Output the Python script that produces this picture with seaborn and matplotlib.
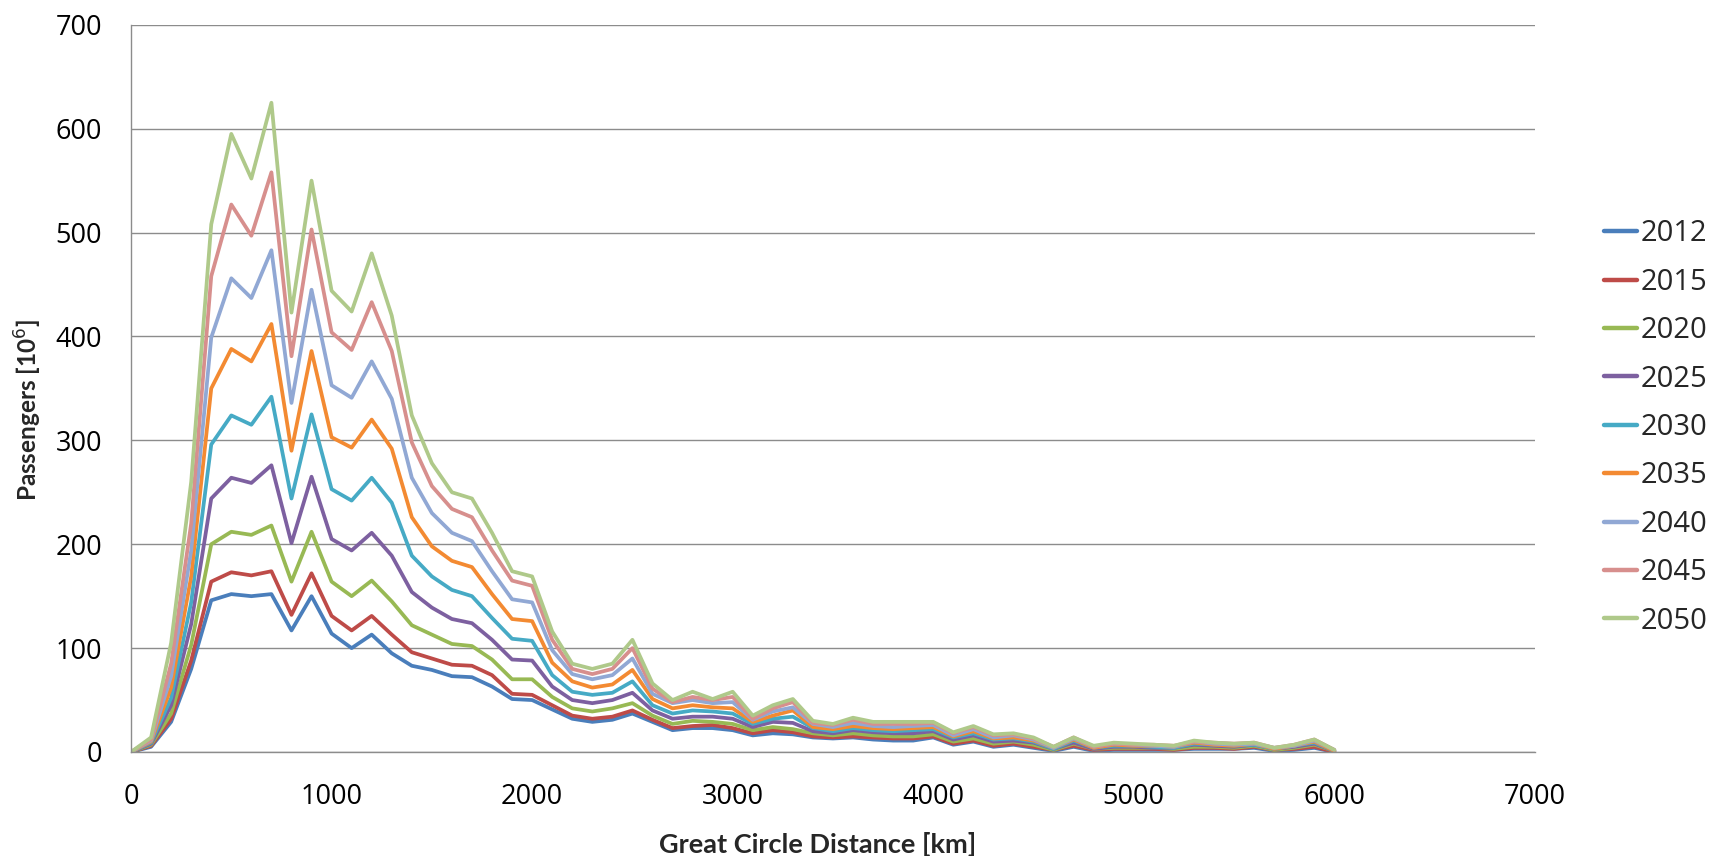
import numpy as np
import pandas as pd
import matplotlib
matplotlib.use("Agg")
import matplotlib.pyplot as plt
import seaborn as sns
from matplotlib.lines import Line2D

distance = list(range(0, 6001, 100))

y2012 = [0,5,29,80,146,152,150,152,117,150,114,100,113,95,83,79,73,72,63,51,50,41,32,29,31,37,29,21,23,23,21,16,18,17,14,13,14,12,11,11,14,7,10,5,7,4,1,5,1,2,2,2,2,3,3,3,4,1,2,4,0]
y2015 = [0,6,32,88,164,173,170,174,132,172,131,117,131,113,96,90,84,83,74,56,55,45,35,32,34,40,31,23,25,26,23,18,21,19,15,14,15,14,13,13,15,8,11,6,8,5,2,6,2,3,3,3,2,4,4,3,5,2,3,5,0]
y2020 = [0,7,37,103,200,212,209,218,164,212,164,150,165,145,122,113,104,102,89,70,70,53,42,39,42,47,35,27,30,29,27,21,24,22,18,16,18,16,15,15,17,10,13,8,10,7,2,8,3,4,4,4,3,5,5,4,6,2,4,7,1]
y2025 = [0,8,45,123,244,264,259,276,201,265,205,194,211,189,154,139,128,124,108,89,88,63,50,47,50,57,40,32,34,34,32,24,29,28,20,18,21,19,18,18,20,12,16,10,11,9,3,9,3,5,5,4,4,7,6,5,7,3,5,8,1]
y2030 = [0,9,52,144,296,324,315,342,244,325,253,242,264,240,189,169,156,150,129,109,107,74,58,55,57,68,45,37,40,39,37,27,32,34,23,20,23,21,20,21,22,14,18,12,13,10,3,11,4,6,6,5,4,8,7,6,7,3,6,9,1]
y2035 = [0,10,62,169,350,388,376,412,290,386,303,293,320,292,226,198,184,178,152,128,126,86,68,62,65,79,51,42,45,43,42,29,35,40,24,22,25,23,22,23,24,15,20,13,14,11,4,12,4,7,6,6,5,9,7,6,8,3,6,10,1]
y2040 = [0,11,73,194,399,456,437,483,336,445,353,341,376,340,264,230,211,203,174,147,144,98,75,70,74,90,56,47,50,47,48,31,39,43,27,24,28,25,24,25,26,16,22,14,16,12,4,13,5,8,7,6,5,10,8,7,8,4,6,11,2]
y2045 = [0,12,85,220,458,527,497,558,381,503,404,387,433,386,298,256,234,226,194,165,160,108,80,75,80,100,61,48,53,50,53,32,42,48,28,26,31,27,27,27,28,18,24,16,17,13,5,14,5,8,7,7,6,10,9,8,9,4,7,12,2]
y2050 = [0,14,105,260,508,595,552,625,423,550,444,424,480,420,324,278,250,244,211,174,169,116,85,80,85,108,66,50,58,51,58,35,45,51,30,27,33,29,29,29,29,19,25,17,18,14,5,14,6,9,8,7,6,11,9,8,9,4,7,12,2]

years = ["2012", "2015", "2020", "2025", "2030", "2035", "2040", "2045", "2050"]
series = [y2012, y2015, y2020, y2025, y2030, y2035, y2040, y2045, y2050]
colors = ["#4A7EBB", "#BE4B48", "#98B954", "#7D60A0", "#46AAC5", "#F38A32",
          "#91A8D4", "#D78F8D", "#AFC98A"]

frames = []
for yr, vals in zip(years, series):
    frames.append(pd.DataFrame({"Distance": distance, "Passengers": vals, "Year": yr}))
df = pd.concat(frames, ignore_index=True)

sns.set_theme(style="white")
plt.rcParams['font.family'] = ['Open Sans', 'DejaVu Sans']

fig = plt.figure(figsize=(17.15, 8.56), dpi=100)
ax = fig.add_axes([0.0764, 0.1215, 0.8186, 0.8495])

sns.lineplot(data=df, x="Distance", y="Passengers", hue="Year",
             palette=dict(zip(years, colors)), linewidth=2.7, ax=ax,
             legend=False, sort=False)

ax.set_xlim(0, 7000)
ax.set_ylim(0, 700)
ax.set_xticks(range(0, 7001, 1000))
ax.set_yticks(range(0, 701, 100))
ax.yaxis.grid(True, color="#8C8C8C", linewidth=1.0)
ax.xaxis.grid(False)
ax.set_axisbelow(True)
for s in ["top", "right"]:
    ax.spines[s].set_visible(False)
for s in ["left", "bottom"]:
    ax.spines[s].set_color("#8C8C8C")
    ax.spines[s].set_linewidth(1.0)
ax.tick_params(axis="both", length=0, labelsize=19.5, colors="black")
ax.tick_params(axis="x", pad=22)
ax.tick_params(axis="y", pad=21)

ax.set_xlabel("Great Circle Distance [km]", fontsize=19.5, fontweight="bold",
              family=["Lato", "DejaVu Sans"])
ax.set_ylabel("Passengers [10$^6$]", fontsize=17.5, fontweight="bold",
              family=["Lato", "DejaVu Sans"])
ax.xaxis.set_label_coords(0.489, -0.11)
ax.yaxis.set_label_coords(-0.062, 0.47)

handles = [Line2D([0], [0], color=c, lw=3.2) for c in colors]
fig.legend(handles, years, loc="center left", bbox_to_anchor=(0.935, 0.5005),
           frameon=False, fontsize=21, handlelength=1.15, handletextpad=0.12,
           labelspacing=0.665, borderaxespad=0, borderpad=0)

fig.savefig("out.png", dpi=100)
